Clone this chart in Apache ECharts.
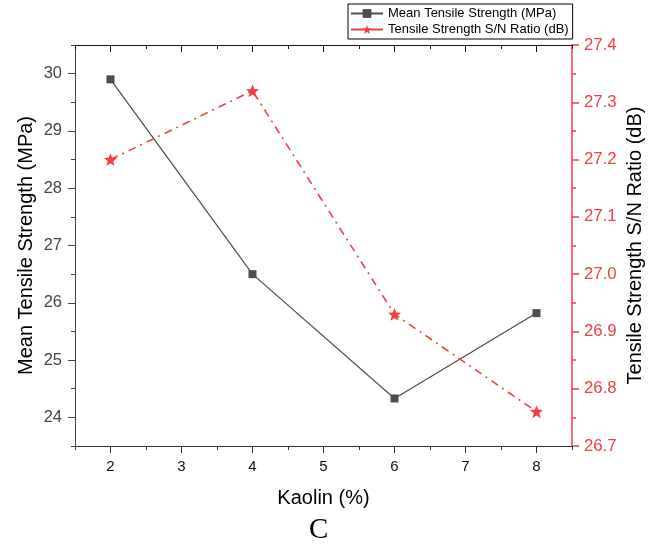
<!DOCTYPE html>
<html>
<head>
<meta charset="utf-8">
<script src="https://cdn.jsdelivr.net/npm/echarts@6/dist/echarts.min.js"></script>
<style>html,body{margin:0;padding:0;background:#fff}#c{width:660px;height:551px}</style>
</head>
<body>
<div id="c"></div>
<script>
var kaolin = [2, 4, 6, 8];
var meanTensile = [29.9, 26.5, 24.33, 25.82];
var snRatio = [27.2, 27.32, 26.93, 26.76];

var xMajorTicks = [2, 3, 4, 5, 6, 7, 8];
var xMinorTicks = [1.5, 2.5, 3.5, 4.5, 5.5, 6.5, 7.5, 8.5];
var yLeftMajorTicks = [24, 25, 26, 27, 28, 29, 30];
var yLeftMinorTicks = [23.5, 24.5, 25.5, 26.5, 27.5, 28.5, 29.5, 30.5];
var yRightMajorTicks = [26.7, 26.8, 26.9, 27.0, 27.1, 27.2, 27.3, 27.4];
var yRightMinorTicks = [26.75, 26.85, 26.95, 27.05, 27.15, 27.25, 27.35];

var RED = '#f04040';
var GRAY = '#4d4d4d';
var FONT = '"Liberation Sans", Arial, sans-serif';
var STAR = 'path://M12,1 L14.9,8.6 L23,9 L16.7,14.2 L18.8,22 L12,17.6 L5.2,22 L7.3,14.2 L1,9 L9.1,8.6 Z';

function pairs(xs, ys){ return xs.map(function(x,i){ return [x, ys[i]]; }); }

var chart = echarts.init(document.getElementById('c'));
var base = {min:1.5, max:8.5, type:'value', splitLine:{show:false}};
chart.setOption({
  animation:false,
  grid:{left:75, right:88, top:45, bottom:105, containLabel:false},
  legend:{
    orient:'vertical', left:348, top:4, padding:[3,4,3,2], itemGap:3,
    itemWidth:32, itemHeight:11, borderColor:'#000', borderWidth:1,
    textStyle:{fontFamily:FONT, fontSize:13, color:'#000'},
    data:[
      {name:'Mean Tensile Strength (MPa)', lineStyle:{type:'solid'}},
      {name:'Tensile Strength S/N Ratio (dB)', lineStyle:{type:'solid', width:2}}
    ]
  },
  graphic:[{type:'text', left:309, top:516, style:{text:'C', font:'29px "Liberation Serif", "Times New Roman", serif', fill:'#000'}}],
  xAxis:[
    Object.assign({}, base, {position:'bottom',
      name:'Kaolin (%)', nameLocation:'middle', nameGap:42, nameMoveOverlap:false,
      nameTextStyle:{fontFamily:FONT, fontSize:20, color:'#000'},
      axisLine:{show:true, lineStyle:{color:'#333', width:1}},
      axisTick:{show:true, inside:false, length:7, customValues:xMajorTicks, lineStyle:{color:'#333'}},
      axisLabel:{show:true, customValues:xMajorTicks, margin:13, fontFamily:FONT, fontSize:15, color:'#111'}
    }),
    Object.assign({}, base, {position:'bottom',
      axisLine:{show:false},
      axisTick:{show:true, inside:false, length:4, customValues:xMinorTicks, lineStyle:{color:'#333'}},
      axisLabel:{show:false}
    }),
    Object.assign({}, base, {position:'top',
      axisLine:{show:true, lineStyle:{color:'#111', width:1}},
      axisTick:{show:true, inside:true, length:7, customValues:xMajorTicks, lineStyle:{color:'#111'}},
      axisLabel:{show:false}
    }),
    Object.assign({}, base, {position:'top',
      axisLine:{show:false},
      axisTick:{show:true, inside:true, length:4, customValues:xMinorTicks, lineStyle:{color:'#111'}},
      axisLabel:{show:false}
    })
  ],
  yAxis:[
    {type:'value', position:'left', min:23.5, max:30.5, splitLine:{show:false},
      name:'Mean Tensile Strength (MPa)', nameLocation:'middle', nameGap:39, nameMoveOverlap:false,
      nameTextStyle:{fontFamily:FONT, fontSize:20, color:'#000'},
      axisLine:{show:true, lineStyle:{color:'#444', width:1}},
      axisTick:{show:true, length:7, customValues:yLeftMajorTicks, lineStyle:{color:'#444'}},
      axisLabel:{customValues:yLeftMajorTicks, margin:13, fontFamily:FONT, fontSize:16.5, color:'#444'}
    },
    {type:'value', position:'right', min:26.7, max:27.4, splitLine:{show:false},
      name:'Tensile Strength S/N Ratio (dB)', nameLocation:'middle', nameGap:53, nameMoveOverlap:false,
      nameTextStyle:{fontFamily:FONT, fontSize:20, color:'#000'},
      axisLine:{show:true, lineStyle:{color:RED, width:1.5}},
      axisTick:{show:true, length:7, customValues:yRightMajorTicks, lineStyle:{color:RED, width:1.5}},
      axisLabel:{customValues:yRightMajorTicks, margin:12, fontFamily:FONT, fontSize:16.8, color:RED,
        formatter:function(v){ return Number(v).toFixed(1); }}
    },
    {type:'value', position:'left', min:23.5, max:30.5, splitLine:{show:false},
      axisLine:{show:false},
      axisTick:{show:true, length:4, customValues:yLeftMinorTicks, lineStyle:{color:'#444'}},
      axisLabel:{show:false}
    },
    {type:'value', position:'right', min:26.7, max:27.4, splitLine:{show:false},
      axisLine:{show:false},
      axisTick:{show:true, length:4, customValues:yRightMinorTicks, lineStyle:{color:RED, width:1.5}},
      axisLabel:{show:false}
    }
  ],
  series:[
    {name:'Mean Tensile Strength (MPa)', type:'line', xAxisIndex:0, yAxisIndex:0,
      data:pairs(kaolin, meanTensile), symbol:'rect', symbolSize:8,
      itemStyle:{color:GRAY}, lineStyle:{color:GRAY, width:1.2}},
    {name:'Tensile Strength S/N Ratio (dB)', type:'line', xAxisIndex:0, yAxisIndex:1,
      data:pairs(kaolin, snRatio), symbol:STAR, symbolSize:13,
      itemStyle:{color:RED}, lineStyle:{color:RED, width:1.6, type:[8,5,2,5]}}
  ]
});
</script>
</body>
</html>
